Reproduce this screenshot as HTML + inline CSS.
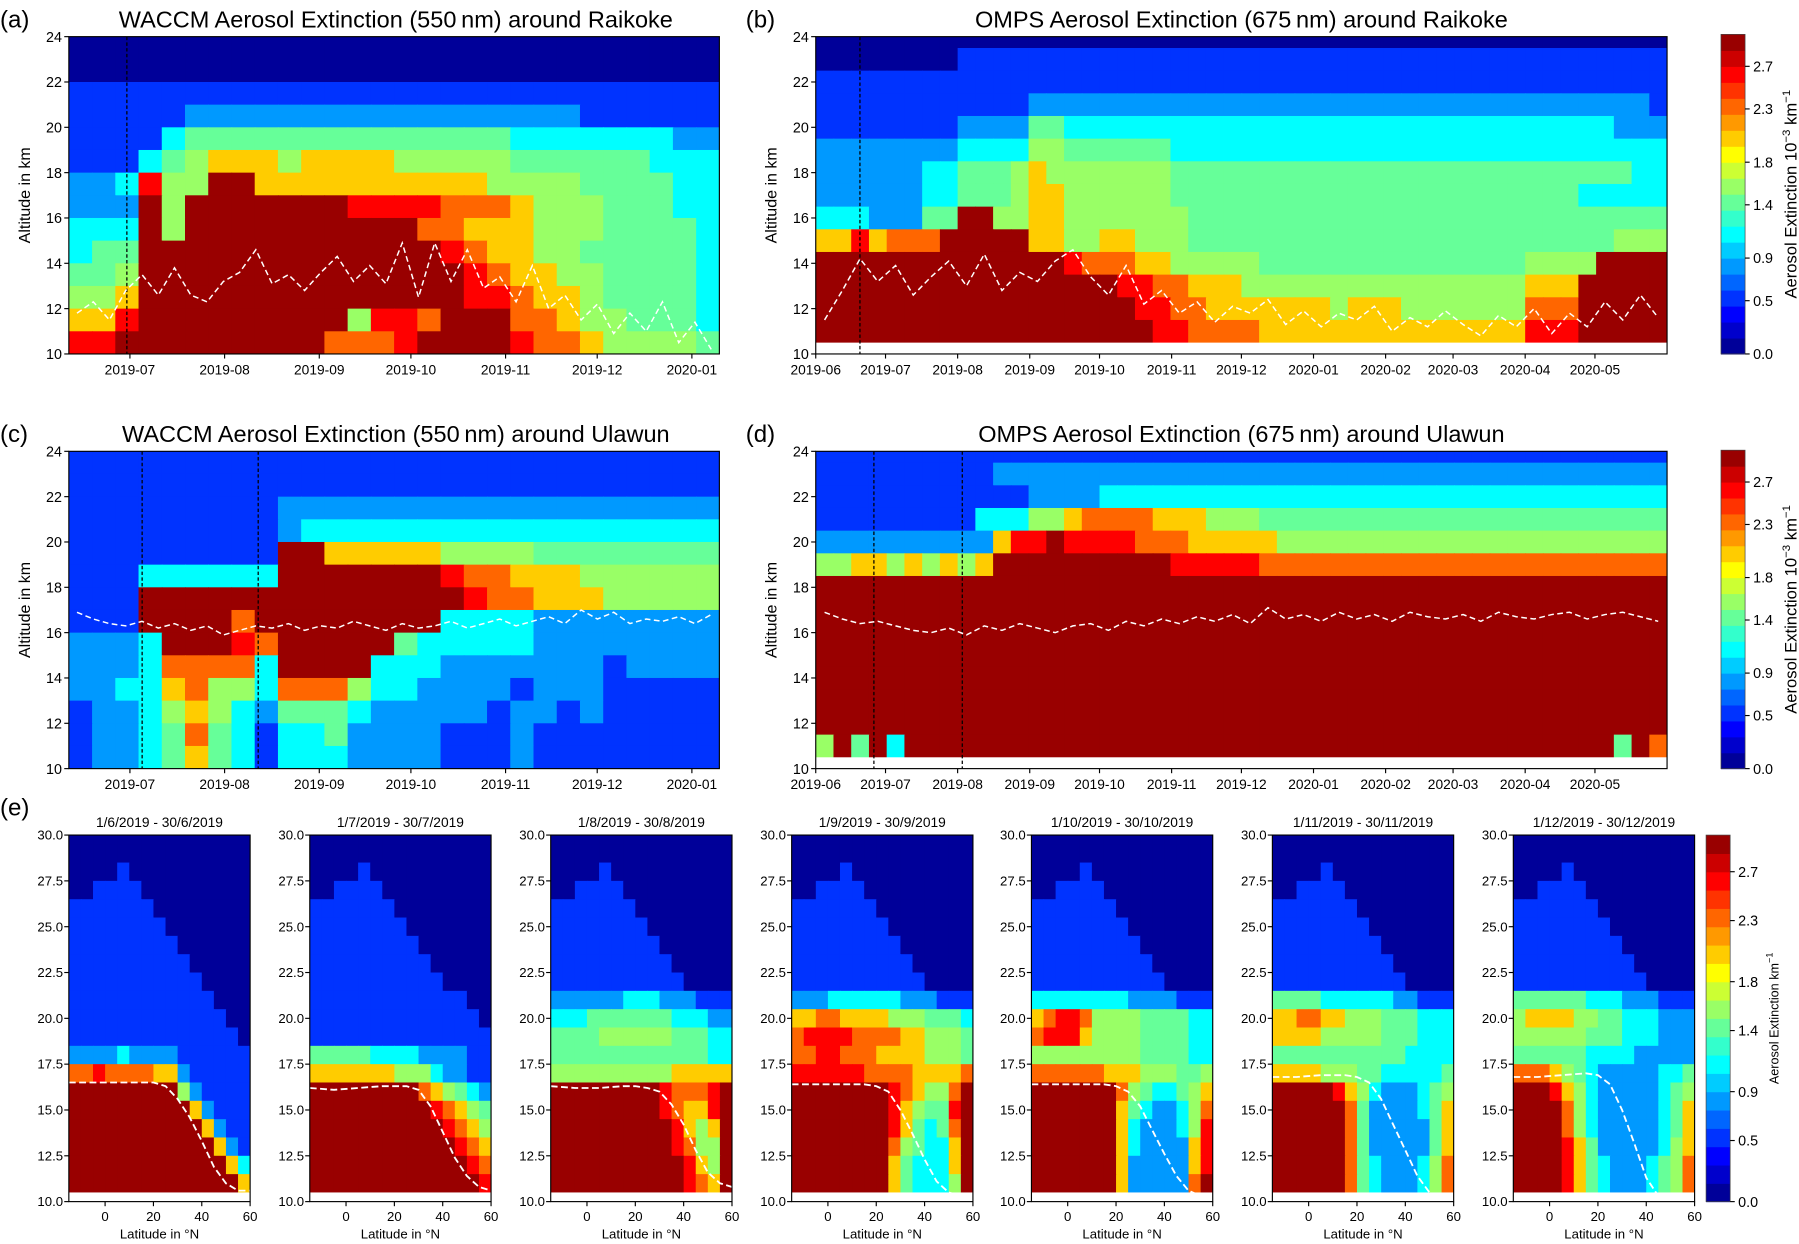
<!DOCTYPE html>
<html><head><meta charset="utf-8"><style>
html,body{margin:0;padding:0;background:#fff;}
svg{display:block;font-family:"Liberation Sans","DejaVu Sans",sans-serif;}
</style></head><body>
<svg id="fig" xmlns="http://www.w3.org/2000/svg" width="1799" height="1244" viewBox="0 0 1568 1086" preserveAspectRatio="none"></svg>
<script>
// ---------- DATA ----------
// level digits 0-9 -> extinction value (d+0.5)*0.3 (10^-3 km^-1)
const rowsA = [
"0000000000000000000000000000",
"0000000000000000000000000000",
"1111111111111111111111111111",
"1111122222222222222222111111",
"1111344444444444444333333322",
"1113456665666655555444444333",
"2238559966666666665555444433",
"2229599999998888777655544433",
"3339599999999997766655544443",
"3449999999999999876655444443",
"4459999999999999987665544443",
"5569999999999999988766544443",
"6689999999995887999776554443",
"8899999999977789999877655554"];
const rowsB = [
"000000000000000000000000000000000000000000000000",
"000000001111111111111111111111111111111111111111",
"111111111111111111111111111111111111111111111111",
"111111111111222222222222222222222222222222222221",
"111111112222443333333333333333333333333333333222",
"222222223333554444443333333333333333333333333333",
"222222334445655555554444444444444444444444444433",
"222222334445665555554444444444444444444444433333",
"333222449955665555555444444444444444444444444444",
"668677799999665566555444444444444444444444444555",
"999999999999998777665555544444444444444455559999",
"999999999999999998877666555555555555555566699999",
"999999999999999999887766666665666555555577799999",
"999999999999999999988777766666666666666688899999"];
const rowsC = [
"1111111111111111111111111111",
"1111111111111111111111111111",
"1111111112222222222222222222",
"1111111112333333333333333333",
"1111111119966666555544444444",
"1113333339999999877666555555",
"1119999999999999987766655555",
"1119999799999999333322222222",
"2223999879999943333322222222",
"2223777739999333222222212222",
"2233675537775332222122211111",
"1223565324443222221221211111",
"1223474313342222111211111111",
"1223464313332222111211111111"];
const rowsD = [
"111111111111111111111111111111111111111111111111",
"111111111122222222222222222222222222222222222222",
"111111111111222233333333333333333333333333333333",
"111111111333556777766655544444444444444444444444",
"222222222268898888777666665555555555555555555555",
"556656565699999999998888877777777777777777777777",
"999999999999999999999999999999999999999999999999",
"999999999999999999999999999999999999999999999999",
"999999999999999999999999999999999999999999999999",
"999999999999999999999999999999999999999999999999",
"999999999999999999999999999999999999999999999999",
"999999999999999999999999999999999999999999999999",
"999999999999999999999999999999999999999999999999",
"594939999999999999999999999999999999999999999497"];
const tropA = [11.8,12.3,11.5,12.8,13.5,12.6,13.8,12.6,12.3,13.2,13.6,14.6,13.1,13.5,12.8,13.6,14.3,13.2,13.9,13.1,14.9,12.5,14.9,13.2,14.6,12.9,13.4,12.3,13.9,12.0,12.6,11.5,12.2,10.9,11.8,11.0,12.3,10.5,11.4,10.2];
const tropB = [11.5,12.8,14.2,13.2,13.9,12.6,13.4,14.1,13.0,14.4,12.8,13.6,13.2,14.1,14.6,13.4,12.6,13.9,12.2,12.8,11.8,12.3,11.4,12.1,11.8,12.4,11.3,11.9,11.2,11.8,11.5,12.1,11.0,11.6,11.2,11.9,11.3,10.8,11.7,11.2,12.0,10.9,11.8,11.2,12.3,11.5,12.6,11.6];
const tropC = [16.9,16.6,16.4,16.3,16.5,16.2,16.4,16.1,16.3,15.9,16.1,16.3,16.2,16.4,16.1,16.3,16.2,16.5,16.3,16.1,16.4,16.2,16.3,16.5,16.2,16.4,16.6,16.3,16.5,16.7,16.4,17.0,16.6,16.9,16.4,16.6,16.5,16.7,16.4,16.8];
const tropD = [16.9,16.6,16.4,16.5,16.3,16.1,16.0,16.2,15.9,16.3,16.1,16.4,16.2,16.0,16.3,16.4,16.1,16.5,16.3,16.6,16.4,16.7,16.5,16.8,16.4,17.1,16.6,16.8,16.5,16.9,16.6,16.8,16.5,16.9,16.7,16.6,16.8,16.5,16.9,16.7,16.6,16.8,16.9,16.6,16.8,16.9,16.7,16.5];
const eventsA = [29], eventsB = [19], eventsC = [34,72], eventsD = [25,63];
const monthTicksWaccm = [["2019-07",30],["2019-08",61],["2019-09",92],["2019-10",122],["2019-11",153],["2019-12",183],["2020-01",214]];
const monthTicksOmps = [["2019-06",0],["2019-07",30],["2019-08",61],["2019-09",92],["2019-10",122],["2019-11",153],["2019-12",183],["2020-01",214],["2020-02",245],["2020-03",274],["2020-04",305],["2020-05",335]];
const altTicks = [10,12,14,16,18,20,22,24];
const cbTicks = [0.0,0.5,0.9,1.4,1.8,2.3,2.7];
// (e) zonal-mean panels
const eTitles = ["1/6/2019 - 30/6/2019","1/7/2019 - 30/7/2019","1/8/2019 - 30/8/2019","1/9/2019 - 30/9/2019","1/10/2019 - 30/10/2019","1/11/2019 - 30/11/2019","1/12/2019 - 30/12/2019"];
const eUpper = ["000000000000000","000000000000000","000010000000000","001111000000000","111111100000000","111111110000000","111111111000000","111111111100000","111111111110000"];
const eLower = [
["111111111111000","111111111111100","111111111111110","222232222111111","778777766211111","999999999521111","999999999962111","999999999996211","999999999999621","999999999999963","999999999999996"],
["111111111111100","111111111111110","111111111111111","444443333222211","666666655532211","999999999765432","999999999987654","999999999998765","999999999999876","999999999999987","999999999999998"],
["222222333222111","333444444433322","444455555544433","444444444444433","555555555566666","999999999877789","999999999876689","999999999986569","999999999987559","999999999998659","999999999998769"],
["222333333222111","667766665554443","788887777665554","778877766665554","888888777766667","999999998765579","999999998654489","999999998643479","999999997543369","999999996433369","999999996433359"],
["333333332222111","678875555444433","788865555444433","555555555444433","777777666555445","999999975433456","999999964322357","999999963222358","999999963222268","999999962222268","999999962222279"],
["444433333322111","667766555444333","666655555444333","444444444443333","666655544333334","999998653222345","999999742222346","999999742222246","999999742222246","999999743222357","999999743222357"],
["444444333222111","566665544333222","555555444333222","444444333322222","777654322222334","999865322222345","999975322222346","999975322222346","999986422222356","999986432223457","999986432223457"]];
const eTropLat = [-15,-5,5,15,20,25,30,35,40,45,50,55,60];
const eTrop = [
[16.5,16.5,16.5,16.5,16.5,16.3,15.6,14.6,13.3,11.9,11.0,10.6,10.6],
[16.2,16.1,16.2,16.3,16.3,16.3,16.1,15.2,13.8,12.4,11.4,10.8,10.6],
[16.3,16.2,16.2,16.3,16.3,16.2,16.0,15.3,14.2,12.8,11.6,11.0,10.8],
[16.4,16.4,16.4,16.4,16.3,16.0,15.0,13.7,12.3,11.1,10.5,10.3,10.2],
[16.4,16.4,16.4,16.4,16.3,16.0,15.2,13.9,12.6,11.4,10.6,10.3,10.2],
[16.8,16.8,16.9,16.9,16.8,16.5,15.6,14.2,12.8,11.4,10.5,10.2,10.1],
[16.8,16.8,16.9,17.0,16.9,16.4,15.0,13.2,11.3,10.3,10.1,10.0,10.0]];
const eAltTicks = [10.0,12.5,15.0,17.5,20.0,22.5,25.0,27.5,30.0];
const eLatTicks = [0,20,40,60];

// ---------- HELPERS ----------
const NS="http://www.w3.org/2000/svg";
const svg=document.getElementById('fig');
function mk(tag,attrs,parent){const e=document.createElementNS(NS,tag);for(const k in attrs)e.setAttribute(k,attrs[k]);(parent||svg).appendChild(e);return e;}
function jet(t){const c=x=>Math.max(0,Math.min(1,x));const r=c(1.5-Math.abs(4*t-3)),g=c(1.5-Math.abs(4*t-2)),b=c(1.5-Math.abs(4*t-1));return `rgb(${Math.round(r*255)},${Math.round(g*255)},${Math.round(b*255)})`;}
function valOf(d){return (d+0.5)*0.3;}
function colorOf(v){const k=Math.min(19,Math.max(0,Math.floor(v/3*20)));return jet((k+0.5)/20);}
function lin(d0,d1,r0,r1){return v=>r0+(v-d0)/(d1-d0)*(r1-r0);}
let clipId=0;
function text(str,x,y,size,anchor,parent,extra){const t=mk('text',Object.assign({x:x,y:y,'font-size':size,'text-anchor':anchor||'start',fill:'#000'},extra||{}),parent);t.textContent=str;return t;}

function heat(g,rows,xs,ys,d0,d1,topBottomAlt,name){
  rows.forEach((row,ri)=>{
    const a0=topBottomAlt-ri; // bottom altitude of bin
    const n=row.length;
    for(let i=0;i<n;i++){
      const v=valOf(parseInt(row[i]));
      const t0=d0+i*(d1-d0)/n,t1=d0+(i+1)*(d1-d0)/n;
      const r=mk('rect',{x:xs(t0),y:ys(a0+1),width:xs(t1)-xs(t0)+0.6,height:ys(a0)-ys(a0+1)+0.4,fill:colorOf(v)},g);
      
      
    }
  });
}
function line(g,vals,xf,ys,name,w,dash){
  let d='';vals.forEach((v,i)=>{d+=(i?'L':'M')+xf(i).toFixed(1)+','+ys(v).toFixed(1);});
  const p=mk('path',{d:d,fill:'none',stroke:'#fff','stroke-width':w,'stroke-dasharray':dash},g);
  
  
}

function timePanel(cfg){
  const {x0,x1,y0,y1,d0,d1,rows,topBin,trop,events,ticks,title,titleX,label,labelX,ylabX,whiteBottom}=cfg;
  const xs=lin(d0,d1,x0,x1), ys=lin(10,24,y1,y0);
  const g=mk('g',{});
  
  
  const cid='c'+(clipId++);
  const cp=mk('clipPath',{id:cid},g);mk('rect',{x:x0,y:y0,width:x1-x0,height:y1-y0},cp);
  const inner=mk('g',{'clip-path':`url(#${cid})`},g);
  mk('rect',{x:x0,y:y0,width:x1-x0,height:y1-y0,fill:'#fff'},inner);
  heat(inner,rows,xs,ys,d0,d1,topBin,'heatmap-cell');
  if(whiteBottom) mk('rect',{x:x0,y:ys(10.5),width:x1-x0,height:y1-ys(10.5),fill:'#fff'},inner);
  events.forEach(e=>{const l=mk('line',{x1:xs(e),x2:xs(e),y1:y0,y2:y1,stroke:'#000','stroke-width':1.1,'stroke-dasharray':'3,2'},inner);});
  line(inner,trop,i=>xs(d0+(i+0.5)*(d1-d0)/trop.length),ys,'tropopause-line',1.3,'5,3');
  const fr=mk('rect',{x:x0,y:y0,width:x1-x0,height:y1-y0,fill:'none',stroke:'#000','stroke-width':1},g);
  
  altTicks.forEach(a=>{mk('line',{x1:x0-4,x2:x0,y1:ys(a),y2:ys(a),stroke:'#000'},g);const t=text(String(a),x0-6,ys(a)+4.5,12.5,'end',g);});
  ticks.forEach(([s,d])=>{mk('line',{x1:xs(d),x2:xs(d),y1:y1,y2:y1+4,stroke:'#000'},g);const t=text(s,xs(d),y1+18,12,'middle',g);});
  const yl=text('Altitude in km',ylabX,(y0+y1)/2,14,'middle',g,{transform:`rotate(-90 ${ylabX} ${(y0+y1)/2})`});
  
  const tt=text(title,titleX,y0-8,20.5,'middle',g);
  const lb=text(label,labelX,y0-8,21,'start',g);
}

function colorbar(x,y0,y1,w,labelStr,labelX,name){
  const g=mk('g',{});
  
  
  const h=(y1-y0)/20;
  for(let k=0;k<20;k++){mk('rect',{x:x,y:y1-(k+1)*h,width:w,height:h+0.5,fill:jet((k+0.5)/20)},g);}
  mk('rect',{x:x,y:y0,width:w,height:y1-y0,fill:'none',stroke:'#444','stroke-width':0.6},g);
  const ys=lin(0,3,y1,y0);
  cbTicks.forEach(v=>{mk('line',{x1:x+w,x2:x+w+4,y1:ys(v),y2:ys(v),stroke:'#000'},g);const t=text(v.toFixed(1),x+w+7,ys(v)+4.5,12.5,'start',g);});
  const cy=(y0+y1)/2;
  const t=mk('text',{x:labelX,y:cy,'font-size':labelStr.size,'text-anchor':'middle',transform:`rotate(-90 ${labelX} ${cy})`},g);
  t.innerHTML=labelStr.html;
  
}

// ---------- PANELS ----------
timePanel({name:'panel-a',x0:60,x1:627,y0:32,y1:309,d0:10,d1:223,rows:rowsA,topBin:23,trop:tropA,events:eventsA,ticks:monthTicksWaccm,title:'WACCM Aerosol Extinction (550\u2009nm) around Raikoke',titleX:345,label:'(a)',labelX:0,ylabX:26,whiteBottom:false});
timePanel({name:'panel-b',x0:711,x1:1453,y0:32,y1:309,d0:0,d1:366,rows:rowsB,topBin:23.5,trop:tropB,events:eventsB,ticks:monthTicksOmps,title:'OMPS Aerosol Extinction (675\u2009nm) around Raikoke',titleX:1082,label:'(b)',labelX:650,ylabX:677,whiteBottom:true});
timePanel({name:'panel-c',x0:60,x1:627,y0:394,y1:671,d0:10,d1:223,rows:rowsC,topBin:23,trop:tropC,events:eventsC,ticks:monthTicksWaccm,title:'WACCM Aerosol Extinction (550\u2009nm) around Ulawun',titleX:345,label:'(c)',labelX:0,ylabX:26,whiteBottom:false});
timePanel({name:'panel-d',x0:711,x1:1453,y0:394,y1:671,d0:0,d1:366,rows:rowsD,topBin:23.5,trop:tropD,events:eventsD,ticks:monthTicksOmps,title:'OMPS Aerosol Extinction (675\u2009nm) around Ulawun',titleX:1082,label:'(d)',labelX:650,ylabX:677,whiteBottom:true});

const cbLab1={size:14.5,html:'Aerosol Extinction 10<tspan font-size="10" dy="-6">\u22123</tspan><tspan dy="6"> km</tspan><tspan font-size="10" dy="-6">\u22121</tspan>'};
colorbar(1500,30,309,21,cbLab1,1566,'colorbar-raikoke');
colorbar(1500,393,671,21,cbLab1,1566,'colorbar-ulawun');

// (e)
const eX=[60,270,480,690,899,1109,1319], eW=158, eY0=729, eY1=1049;
const lbE=text('(e)',0,712,21,'start');
eX.forEach((x0,p)=>{
  const x1=x0+eW, xs=lin(-15,60,x0,x1), ys=lin(10,30,eY1,eY0);
  const g=mk('g',{});
  
  
  const cid='c'+(clipId++);
  const cp=mk('clipPath',{id:cid},g);mk('rect',{x:x0,y:eY0,width:eW,height:eY1-eY0},cp);
  const inner=mk('g',{'clip-path':`url(#${cid})`},g);
  const rows=eUpper.concat(eLower[p]);
  rows.forEach((row,ri)=>{
    const a0=29.5-ri;const n=row.length;
    for(let i=0;i<n;i++){
      const l0=-15+i*75/n,l1=-15+(i+1)*75/n;
      const r=mk('rect',{x:xs(l0),y:ys(a0+1),width:xs(l1)-xs(l0)+0.5,height:ys(a0)-ys(a0+1)+0.4,fill:colorOf(valOf(parseInt(row[i])))},inner);
      
      
    }
  });
  mk('rect',{x:x0,y:ys(10.5),width:eW,height:eY1-ys(10.5),fill:'#fff'},inner);
  line(inner,eTrop[p],i=>xs(eTropLat[i]),ys,'tropopause-line',1.6,'6,3');
  mk('rect',{x:x0,y:eY0,width:eW,height:eY1-eY0,fill:'none',stroke:'#000','stroke-width':1},g);
  eAltTicks.forEach(a=>{mk('line',{x1:x0-4,x2:x0,y1:ys(a),y2:ys(a),stroke:'#000'},g);const t=text(a.toFixed(1),x0-5,ys(a)+4,11.5,'end',g);});
  eLatTicks.forEach(l=>{mk('line',{x1:xs(l),x2:xs(l),y1:eY1,y2:eY1+4,stroke:'#000'},g);const t=text(String(l),xs(l),eY1+17,11.5,'middle',g);});
  const xl=text('Latitude in \u00b0N',(x0+x1)/2,1081,11.5,'middle',g);
  const tt=text(eTitles[p],(x0+x1)/2,eY0-7,12,'middle',g);
});
const cbLab3={size:11,html:'Aerosol Extinction  km<tspan font-size="8" dy="-5">\u22121</tspan>'};
colorbar(1487,729,1049,21,cbLab3,1550,'colorbar-zonal');
</script>
</body></html>
